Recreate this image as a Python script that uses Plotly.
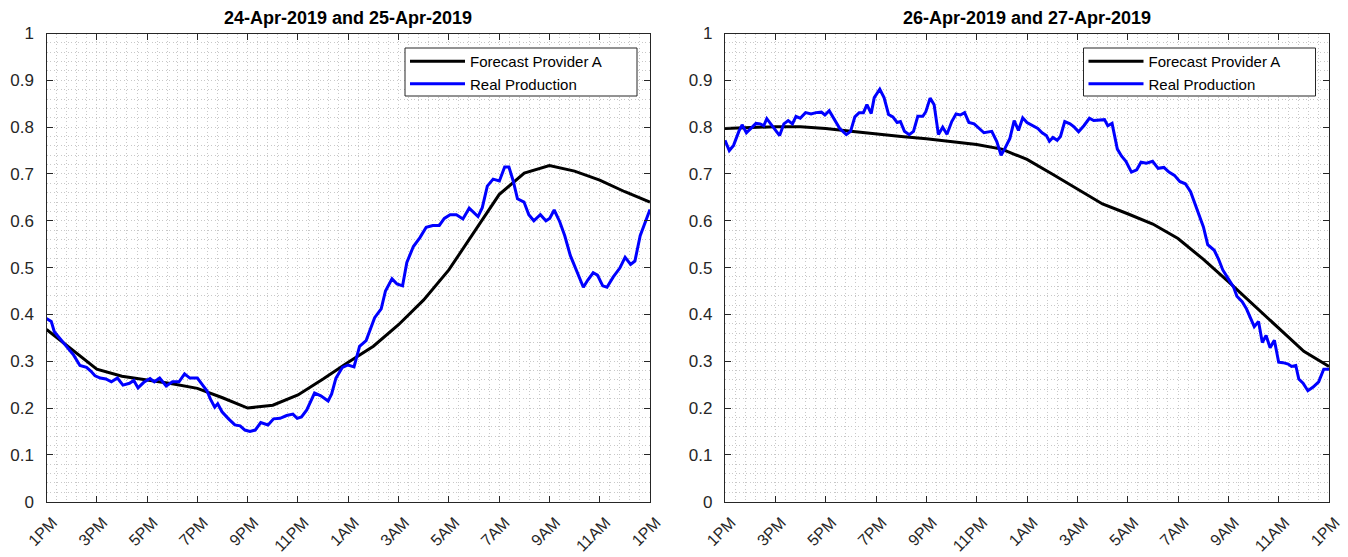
import plotly.graph_objects as go
from plotly.subplots import make_subplots

# hours after 1PM, tick labels
tick_hours = [0, 2, 4, 6, 8, 10, 12, 14, 16, 18, 20, 22, 24]
tick_labels = ['1PM', '3PM', '5PM', '7PM', '9PM', '11PM', '1AM', '3AM', '5AM', '7AM', '9AM', '11AM', '1PM']

# forecast is hourly
fc_hours = list(range(25))

# 24-Apr-2019 and 25-Apr-2019
fc_left = [0.368, 0.325, 0.283, 0.268, 0.260, 0.252, 0.242, 0.222, 0.200, 0.206, 0.228, 0.262,
           0.298, 0.332, 0.378, 0.431, 0.495, 0.575, 0.656, 0.702, 0.718, 0.706, 0.687, 0.662, 0.640]

real_left_h = [0.00, 0.19, 0.31, 0.56, 0.82, 1.08, 1.33, 1.59, 1.76, 1.93, 2.14, 2.36, 2.58, 2.82,
               3.04, 3.30, 3.47, 3.64, 3.87, 4.12, 4.29, 4.50, 4.76, 5.01, 5.27, 5.49, 5.70, 6.00,
               6.21, 6.38, 6.52, 6.69, 6.81, 6.98, 7.24, 7.49, 7.70, 7.89, 8.09, 8.30, 8.52, 8.81,
               9.03, 9.29, 9.55, 9.80, 9.97, 10.14, 10.35, 10.66, 10.91, 11.20, 11.34, 11.51, 11.77,
               11.99, 12.23, 12.45, 12.71, 12.85, 13.05, 13.31, 13.48, 13.74, 13.94, 14.16, 14.33,
               14.59, 14.85, 15.10, 15.36, 15.62, 15.82, 16.05, 16.30, 16.56, 16.81, 17.16, 17.33,
               17.53, 17.76, 18.01, 18.22, 18.39, 18.56, 18.73, 18.99, 19.18, 19.38, 19.64, 19.86,
               20.01, 20.19, 20.41, 20.61, 20.83, 21.09, 21.35, 21.52, 21.74, 21.91, 22.12, 22.29,
               22.54, 22.80, 23.01, 23.23, 23.40, 23.61, 23.80, 24.00]
real_left = [0.391, 0.385, 0.363, 0.347, 0.332, 0.313, 0.291, 0.287, 0.279, 0.269, 0.264, 0.262,
             0.256, 0.264, 0.249, 0.253, 0.259, 0.243, 0.255, 0.263, 0.256, 0.264, 0.247, 0.256,
             0.256, 0.273, 0.264, 0.264, 0.249, 0.237, 0.219, 0.202, 0.209, 0.192, 0.177, 0.164,
             0.162, 0.153, 0.150, 0.153, 0.169, 0.164, 0.177, 0.178, 0.184, 0.187, 0.178, 0.181,
             0.196, 0.232, 0.226, 0.215, 0.230, 0.264, 0.287, 0.292, 0.288, 0.332, 0.344, 0.363,
             0.393, 0.412, 0.450, 0.476, 0.465, 0.461, 0.511, 0.545, 0.564, 0.586, 0.590, 0.590,
             0.605, 0.613, 0.613, 0.604, 0.627, 0.609, 0.628, 0.674, 0.689, 0.685, 0.715, 0.715,
             0.685, 0.647, 0.640, 0.613, 0.600, 0.613, 0.600, 0.605, 0.623, 0.598, 0.568, 0.526,
             0.492, 0.458, 0.473, 0.489, 0.484, 0.461, 0.458, 0.480, 0.499, 0.522, 0.507, 0.514,
             0.568, 0.594, 0.624]

# 26-Apr-2019 and 27-Apr-2019
fc_right = [0.797, 0.799, 0.801, 0.801, 0.797, 0.791, 0.785, 0.780, 0.775, 0.769, 0.763, 0.753,
            0.731, 0.700, 0.668, 0.636, 0.615, 0.593, 0.562, 0.518, 0.470, 0.420, 0.370, 0.321, 0.289]

real_right_h = [0.00, 0.17, 0.34, 0.55, 0.68, 0.85, 1.06, 1.23, 1.40, 1.54, 1.66, 1.88, 2.00, 2.17,
                2.34, 2.51, 2.68, 2.82, 2.99, 3.20, 3.42, 3.62, 3.83, 3.97, 4.14, 4.34, 4.56, 4.82,
                4.99, 5.16, 5.33, 5.50, 5.64, 5.81, 5.93, 6.15, 6.32, 6.50, 6.67, 6.84, 6.97, 7.13,
                7.32, 7.49, 7.66, 7.86, 7.98, 8.15, 8.31, 8.48, 8.65, 8.82, 9.01, 9.18, 9.35, 9.52,
                9.69, 9.90, 10.12, 10.29, 10.60, 10.80, 10.97, 11.11, 11.32, 11.49, 11.66, 11.83,
                12.00, 12.22, 12.43, 12.60, 12.77, 12.89, 13.03, 13.20, 13.33, 13.50, 13.71, 13.88,
                14.05, 14.26, 14.48, 14.65, 14.91, 15.08, 15.21, 15.38, 15.59, 15.76, 15.93, 16.15,
                16.36, 16.53, 16.75, 16.99, 17.21, 17.44, 17.64, 17.86, 18.07, 18.29, 18.50, 18.67,
                18.84, 19.01, 19.18, 19.44, 19.61, 19.78, 20.00, 20.21, 20.34, 20.55, 20.72, 20.89,
                21.03, 21.20, 21.35, 21.50, 21.66, 21.83, 22.00, 22.17, 22.38, 22.51, 22.68, 22.80,
                22.97, 23.16, 23.37, 23.59, 23.79, 24.00]
real_right = [0.772, 0.750, 0.761, 0.791, 0.805, 0.788, 0.799, 0.808, 0.807, 0.803, 0.818, 0.803,
              0.795, 0.782, 0.807, 0.814, 0.807, 0.823, 0.819, 0.831, 0.828, 0.831, 0.832, 0.826,
              0.835, 0.818, 0.797, 0.784, 0.791, 0.822, 0.831, 0.831, 0.848, 0.829, 0.863, 0.881,
              0.863, 0.827, 0.822, 0.810, 0.812, 0.791, 0.784, 0.791, 0.823, 0.823, 0.833, 0.862,
              0.848, 0.784, 0.800, 0.785, 0.812, 0.828, 0.826, 0.831, 0.810, 0.807, 0.795, 0.788,
              0.791, 0.769, 0.740, 0.753, 0.776, 0.814, 0.793, 0.820, 0.810, 0.803, 0.797, 0.788,
              0.782, 0.770, 0.778, 0.772, 0.780, 0.812, 0.807, 0.800, 0.790, 0.803, 0.819, 0.814,
              0.816, 0.816, 0.803, 0.808, 0.753, 0.738, 0.727, 0.704, 0.709, 0.725, 0.723, 0.727,
              0.712, 0.714, 0.704, 0.697, 0.684, 0.679, 0.662, 0.636, 0.613, 0.587, 0.549, 0.537,
              0.518, 0.495, 0.476, 0.458, 0.439, 0.427, 0.412, 0.393, 0.374, 0.385, 0.340, 0.355,
              0.329, 0.345, 0.298, 0.297, 0.294, 0.289, 0.291, 0.262, 0.253, 0.237, 0.245, 0.256,
              0.283, 0.283]

titles = ['24-Apr-2019 and 25-Apr-2019', '26-Apr-2019 and 27-Apr-2019']

W, H = 1348, 557
axis_col = '#262626'
grid_col = '#c8c8c8'
grid_dash = '1px,2.5px'
font = 'Liberation Sans'

fig = make_subplots(rows=1, cols=2)

panels = [(fc_left, real_left_h, real_left, 'legend'), (fc_right, real_right_h, real_right, 'legend2')]
for i, (fc, rh, rv, leg) in enumerate(panels):
    fig.add_trace(go.Scatter(x=fc_hours, y=fc, mode='lines', name='Forecast Provider A',
                             line=dict(color='black', width=3), legend=leg), row=1, col=i + 1)
    fig.add_trace(go.Scatter(x=rh, y=rv, mode='lines', name='Real Production',
                             line=dict(color='#0000ff', width=3), legend=leg), row=1, col=i + 1)

# axes pixel boxes
x_doms = [[46.5 / W, 650 / W], [725 / W, 1329 / W]]
y_dom = [1 - 501.7 / H, 1 - 33.5 / H]

for i in range(2):
    fig.update_xaxes(domain=x_doms[i], range=[0, 24], tickvals=tick_hours, ticktext=tick_labels,
                     tickangle=-45, ticks='inside', ticklen=6, tickcolor=axis_col,
                     ticklabelstandoff=4, ticklabelshift=6,
                     showline=True, linecolor=axis_col, linewidth=1.3, mirror='ticks',
                     showgrid=True, gridcolor=grid_col, griddash=grid_dash, gridwidth=1,
                     minor=dict(dtick=0.4, tick0=0, showgrid=True, gridcolor=grid_col,
                                griddash=grid_dash, gridwidth=1, ticks=''),
                     tickfont=dict(family=font, size=16, color=axis_col),
                     zeroline=False, automargin=False, row=1, col=i + 1)
    fig.update_yaxes(domain=y_dom, range=[0, 1], dtick=0.1, tick0=0, tickformat='~g',
                     ticks='inside', ticklen=6, tickcolor=axis_col, ticklabelstandoff=8,
                     showline=True, linecolor=axis_col, linewidth=1.3, mirror='ticks',
                     showgrid=True, gridcolor=grid_col, griddash=grid_dash, gridwidth=1,
                     minor=dict(dtick=0.02, tick0=0, showgrid=True, gridcolor=grid_col,
                                griddash=grid_dash, gridwidth=1, ticks=''),
                     tickfont=dict(family=font, size=17, color=axis_col),
                     zeroline=False, automargin=False, row=1, col=i + 1)

for i, t in enumerate(titles):
    fig.add_annotation(text='<b>' + t + '</b>', xref='paper', yref='paper',
                       x=sum(x_doms[i]) / 2, y=1 - 18 / H, xanchor='center', yanchor='middle',
                       showarrow=False, font=dict(family=font, size=18, color='black'))

# legend frame drawn as a box (plotly legend would size itself to the text)
leg_left = 405 - 46.5
for i in range(2):
    x0 = (x_doms[i][0] * W + leg_left) / W
    fig.add_shape(type='rect', xref='paper', yref='paper', x0=x0, x1=x0 + 232 / W,
                  y0=1 - 96 / H, y1=1 - 48 / H, fillcolor='white',
                  line=dict(color=axis_col, width=1), layer='above')

leg_style = dict(xanchor='left', yanchor='top', bgcolor='rgba(0,0,0,0)', borderwidth=0,
                 font=dict(family=font, size=15, color='black'),
                 itemwidth=55, tracegroupgap=0)
fig.update_layout(
    legend=dict(x=(x_doms[0][0] * W + leg_left) / W, y=1 - 45 / H, **leg_style),
    legend2=dict(x=(x_doms[1][0] * W + leg_left) / W, y=1 - 45 / H, **leg_style),
    width=W, height=H,
    margin=dict(l=0, r=0, t=0, b=0),
    plot_bgcolor='white', paper_bgcolor='white',
)

# drop the default page margin so the figure sits at the window corner
fig.write_html('out.html', config={'displayModeBar': False},
               post_script="document.body.style.margin='0';")
